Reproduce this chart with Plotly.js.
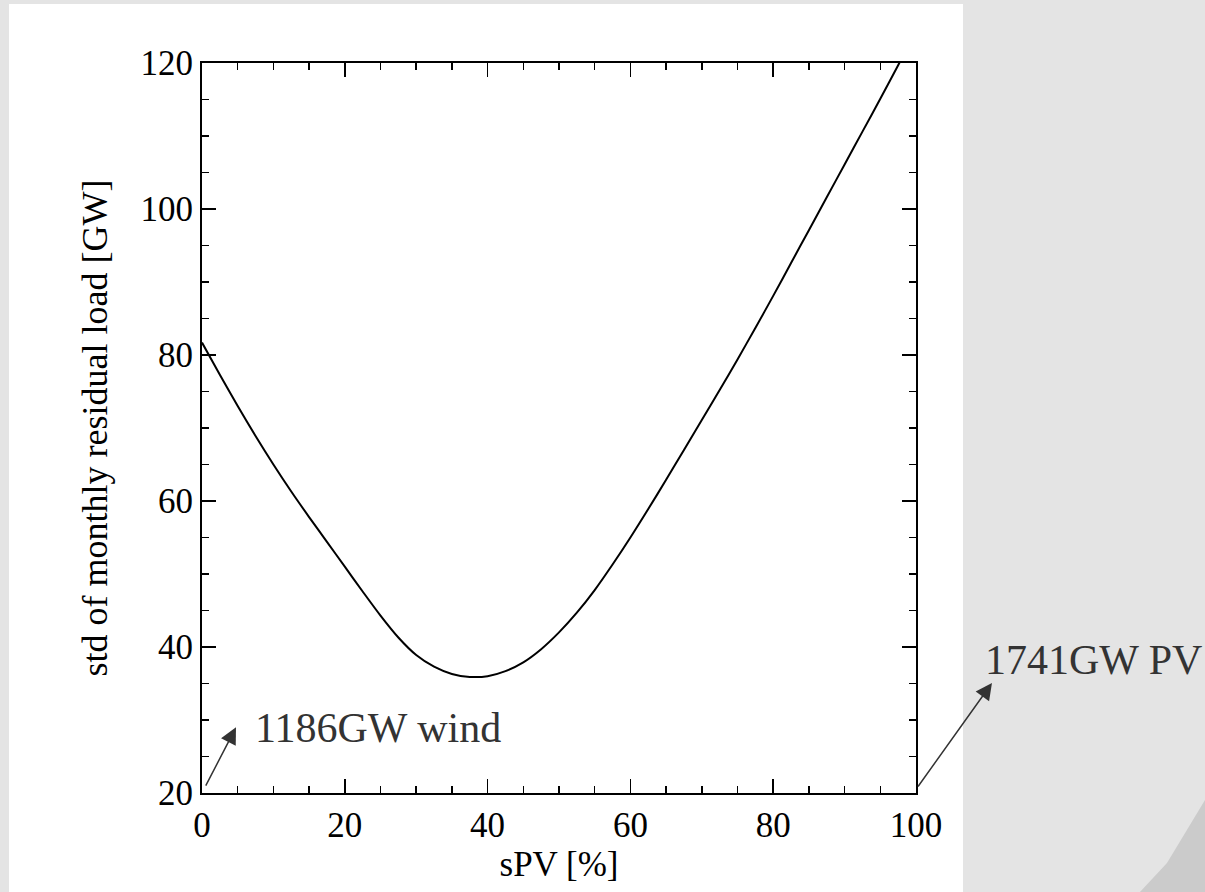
<!DOCTYPE html>
<html>
<head>
<meta charset="utf-8">
<script src="https://cdn.plot.ly/plotly-3.0.1.min.js"></script>
<style>
  html, body { margin: 0; padding: 0; background: #e4e4e4; }
  #chart { width: 1205px; height: 892px; }
</style>
</head>
<body>
<div id="chart"></div>
<script>
// sPV share [%]
const sPV = [0, 2.5, 5, 7.5, 10, 12.5, 15, 17.5, 20, 22.5, 25, 27.5, 30, 32.5, 35, 37.5, 40,
  42.5, 45, 47.5, 50, 52.5, 55, 57.5, 60, 62.5, 65, 67.5, 70, 72.5, 75, 77.5, 80,
  82.5, 85, 87.5, 90, 92.5, 95, 97.5, 100];
// std of monthly residual load [GW]
const stdLoad = [81.7, 77.3, 73.0, 68.9, 65.0, 61.3, 57.8, 54.4, 51.0, 47.6, 44.3, 41.3, 38.9,
  37.3, 36.3, 35.9, 36.0, 36.7, 37.9, 39.7, 42.0, 44.7, 47.8, 51.3, 55.0, 58.9, 62.9,
  67.0, 71.1, 75.2, 79.4, 83.7, 88.1, 92.6, 97.1, 101.6, 106.1, 110.6, 115.1, 119.7, 124.3];

const xTicks = [0, 20, 40, 60, 80, 100];
const yTicks = [20, 40, 60, 80, 100, 120];

const windLabel = "1186GW wind";
const pvLabel = "1741GW PV";

const FONT = "Liberation Serif, Times New Roman, serif";

const trace = {
  x: sPV, y: stdLoad, type: "scatter", mode: "lines",
  line: { color: "#000000", width: 2, shape: "spline", smoothing: 0.8 },
  hoverinfo: "skip"
};

const axisCommon = {
  showline: true, linecolor: "#000000", linewidth: 2,
  mirror: "allticks", ticks: "inside", ticklen: 14, tickwidth: 1.5, tickcolor: "#000000",
  showgrid: false, zeroline: false,
  tickfont: { family: FONT, size: 35, color: "#000000" },
  minor: { ticks: "inside", ticklen: 7, tickwidth: 1.5, tickcolor: "#000000", dtick: 5, showgrid: false }
};

const layout = {
  width: 1205, height: 892,
  paper_bgcolor: "#e4e4e4", plot_bgcolor: "#ffffff",
  margin: { l: 202, r: 289, t: 63, b: 99 },
  showlegend: false,
  xaxis: Object.assign({}, axisCommon, {
    range: [0, 100], tickvals: xTicks, ticktext: xTicks.map(String),
    title: { text: "sPV [%]", font: { family: FONT, size: 35, color: "#000000" }, standoff: 2 }
  }),
  yaxis: Object.assign({}, axisCommon, {
    range: [20, 120], tickvals: yTicks, ticktext: yTicks.map(String),
    title: { text: "std of monthly residual load [GW]", font: { family: FONT, size: 36, color: "#000000" }, standoff: 22 }
  }),
  shapes: [
    { type: "rect", xref: "paper", yref: "paper", x0: -0.2703, x1: 1.0658, y0: -0.1356, y1: 1.0808,
      fillcolor: "#ffffff", line: { width: 0 }, layer: "below" },
    { type: "path", xref: "paper", yref: "paper",
      path: "M 1.3137,-0.1356 L 1.3515,-0.0959 L 1.4048,-0.0096 L 1.4048,-0.1356 Z",
      fillcolor: "#cbcbcb", line: { width: 0 }, layer: "below" }
  ],
  annotations: [
    { x: 4.76, y: 29.0, ax: 0.42, ay: 20.8, axref: "x", ayref: "y", xref: "x", yref: "y",
      text: "", showarrow: true, arrowhead: 2, arrowsize: 2.2, arrowwidth: 1.5, arrowcolor: "#333333" },
    { x: 7.14, y: 28.9, xref: "x", yref: "y", text: windLabel, showarrow: false,
      xanchor: "left", yanchor: "middle", font: { family: FONT, size: 42, color: "#333333" } },
    { x: 1.1064, y: 0.1507, xref: "paper", yref: "paper", ax: -75, ay: 105,
      text: "", showarrow: true, arrowhead: 2, arrowsize: 2.2, arrowwidth: 1.5, arrowcolor: "#333333" },
    { x: 1.0938, y: 0.1822, xref: "paper", yref: "paper", text: pvLabel, showarrow: false,
      xanchor: "left", yanchor: "middle", font: { family: FONT, size: 42, color: "#333333" } }
  ]
};

Plotly.newPlot("chart", [trace], layout, { displayModeBar: false, staticPlot: true });
</script>
</body>
</html>
